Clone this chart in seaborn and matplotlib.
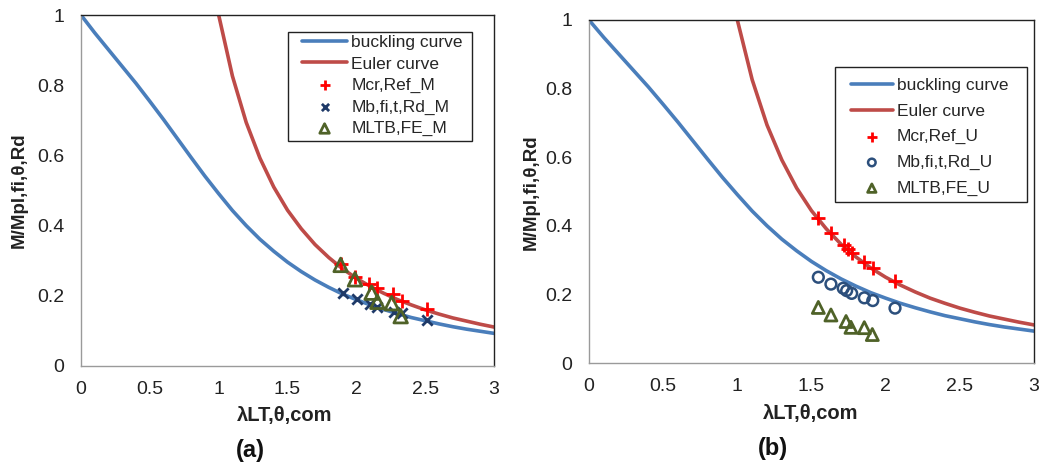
import numpy as np
import pandas as pd
import matplotlib
matplotlib.use("Agg")
import matplotlib.pyplot as plt
from matplotlib.patches import Rectangle
import seaborn as sns

# ---------------- data ----------------
lam_curve = [0.0, 0.1, 0.2, 0.3, 0.4, 0.5, 0.6, 0.7, 0.8, 0.9, 1.0, 1.1, 1.2, 1.3, 1.4,
             1.5, 1.6, 1.7, 1.8, 1.9, 2.0, 2.1, 2.2, 2.3, 2.4, 2.5, 2.6, 2.7, 2.8, 2.9, 3.0]
buckling = [1.000, 0.949, 0.901, 0.853, 0.805, 0.754, 0.702, 0.648, 0.594, 0.541, 0.491,
            0.443, 0.400, 0.361, 0.327, 0.296, 0.269, 0.245, 0.224, 0.205, 0.189, 0.174,
            0.161, 0.149, 0.138, 0.129, 0.120, 0.112, 0.105, 0.099, 0.093]
lam_euler = [1.0, 1.1, 1.2, 1.3, 1.4, 1.5, 1.6, 1.7, 1.8, 1.9, 2.0,
             2.1, 2.2, 2.3, 2.4, 2.5, 2.6, 2.7, 2.8, 2.9, 3.0]
euler = [1.000, 0.826, 0.694, 0.592, 0.510, 0.444, 0.391, 0.346, 0.309, 0.277, 0.250,
         0.227, 0.207, 0.189, 0.174, 0.160, 0.148, 0.137, 0.128, 0.119, 0.111]

# panel (a)
a_mcr_x = [1.886, 1.990, 2.094, 2.153, 2.264, 2.329, 2.516]
a_mcr_y = [0.291, 0.254, 0.234, 0.221, 0.204, 0.186, 0.162]
a_mb_x = [1.901, 2.002, 2.099, 2.153, 2.274, 2.329, 2.516]
a_mb_y = [0.209, 0.190, 0.177, 0.169, 0.155, 0.150, 0.131]
a_fe_x = [1.886, 1.990, 2.111, 2.153, 2.257, 2.322]
a_fe_y = [0.288, 0.247, 0.209, 0.183, 0.179, 0.142]

# panel (b)
b_mcr_x = [1.546, 1.631, 1.719, 1.748, 1.771, 1.856, 1.913, 2.063]
b_mcr_y = [0.422, 0.378, 0.344, 0.331, 0.322, 0.295, 0.276, 0.239]
b_mb_x = [1.546, 1.631, 1.714, 1.737, 1.771, 1.856, 1.913, 2.063]
b_mb_y = [0.250, 0.230, 0.218, 0.211, 0.203, 0.190, 0.182, 0.160]
b_fe_x = [1.546, 1.631, 1.733, 1.766, 1.856, 1.910]
b_fe_y = [0.162, 0.140, 0.121, 0.104, 0.103, 0.083]

xticks = [0, 0.5, 1, 1.5, 2, 2.5, 3]
xtick_labels = ["0", "0.5", "1", "1.5", "2", "2.5", "3"]
yticks = [0, 0.2, 0.4, 0.6, 0.8, 1]
ytick_labels = ["0", "0.2", "0.4", "0.6", "0.8", "1"]

# ---------------- style ----------------
sns.set_theme(style="white")
plt.rcParams["font.family"] = ["Liberation Sans", "DejaVu Sans"]

BLUE = "#4A7EBB"
RED = "#BE4B48"
PLUS = "#FF0000"
NAVY = "#1F3A68"
CIRC = "#2C4F7C"
OLIVE = "#4F6228"

W, H = 1040, 466
fig = plt.figure(figsize=(W / 100, H / 100), dpi=100)


def px_axes(x0, x1, ytop, ybot):
    return fig.add_axes([x0 / W, 1 - ybot / H, (x1 - x0) / W, (ybot - ytop) / H])


ax_a = px_axes(81, 494, 15, 366)
ax_b = px_axes(589, 1034, 20, 363)

curve_df = pd.DataFrame({"lam": lam_curve, "chi": buckling})
euler_df = pd.DataFrame({"lam": lam_euler, "chi": euler})


def draw_panel(ax, mcr, mb, fe, suffix, mb_marker, mb_color, fe_size):
    sns.lineplot(data=curve_df, x="lam", y="chi", ax=ax, color=BLUE, lw=2.6,
                 sort=False, estimator=None, label="buckling curve")
    sns.lineplot(data=euler_df, x="lam", y="chi", ax=ax, color=RED, lw=2.6,
                 sort=False, estimator=None, label="Euler curve")
    sns.scatterplot(x=mcr[0], y=mcr[1], ax=ax, marker="+", color=PLUS, s=95,
                    linewidth=2.0, label="Mcr,Ref_" + suffix, zorder=5)
    if mb_marker == "x":
        sns.scatterplot(x=mb[0], y=mb[1], ax=ax, marker="x", color=mb_color, s=55,
                        linewidth=2.0, label="Mb,fi,t,Rd_" + suffix, zorder=5)
    else:
        sns.scatterplot(x=mb[0], y=mb[1], ax=ax, marker="o", facecolor="none",
                        edgecolor=mb_color, s=60, linewidth=1.8,
                        label="Mb,fi,t,Rd_" + suffix, zorder=5)
    sns.scatterplot(x=fe[0], y=fe[1], ax=ax, marker="^", facecolor="none",
                    edgecolor=OLIVE, s=fe_size, linewidth=2.0,
                    label="MLTB,FE_" + suffix, zorder=6)

    ax.set_xlim(0, 3)
    ax.set_ylim(0, 1)
    ax.set_xticks(xticks)
    ax.set_xticklabels(xtick_labels)
    ax.set_yticks(yticks)
    ax.set_yticklabels(ytick_labels)
    ax.tick_params(axis="both", which="both", length=0, labelsize=14,
                   colors="#222222")
    ax.tick_params(axis="x", pad=11)
    ax.tick_params(axis="y", pad=12)
    ax.set_xlabel("")
    ax.set_ylabel("")
    for side in ["left", "bottom"]:
        ax.spines[side].set_color("#9A9A9A")
        ax.spines[side].set_linewidth(1.0)
    for side in ["top", "right"]:
        ax.spines[side].set_color("#222222")
        ax.spines[side].set_linewidth(1.0)
    ax.grid(False)


draw_panel(ax_a, (a_mcr_x, a_mcr_y), (a_mb_x, a_mb_y), (a_fe_x, a_fe_y), "M",
           "x", NAVY, 95)
draw_panel(ax_b, (b_mcr_x, b_mcr_y), (b_mb_x, b_mb_y), (b_fe_x, b_fe_y), "U",
           "o", CIRC, 75)


def frame(ax, x0, y0, x1, y1):
    ax.add_patch(Rectangle((x0 / W, 1 - y1 / H), (x1 - x0) / W, (y1 - y0) / H,
                           transform=fig.transFigure, facecolor="white",
                           edgecolor="#222222", linewidth=1.0, zorder=8,
                           clip_on=False))


# legends (frame drawn separately to match the reference padding)
frame(ax_a, 288, 32, 472, 141)
leg_a = ax_a.legend(loc="upper left", bbox_to_anchor=(302 / W, 1 - 35 / H),
                    bbox_transform=fig.transFigure, frameon=False, fontsize=12.5,
                    handlelength=2.6, handletextpad=0.25, labelspacing=0.36,
                    borderpad=0, markerscale=0.7, borderaxespad=0)
leg_a.set_zorder(10)
frame(ax_b, 835, 67, 1027, 202)
leg_b = ax_b.legend(loc="upper left", bbox_to_anchor=(851 / W, 1 - 78 / H),
                    bbox_transform=fig.transFigure, frameon=False, fontsize=12.5,
                    handlelength=2.4, handletextpad=0.25, labelspacing=0.6,
                    borderpad=0, markerscale=0.7, borderaxespad=0)
leg_b.set_zorder(10)

# axis titles and panel captions
fig.text(19 / W, 1 - 190 / H, "M/Mpl,fi,θ,Rd", rotation=90, ha="center",
         va="center", fontsize=13.5, fontweight="bold", color="#222222")
fig.text(531 / W, 1 - 192 / H, "M/Mpl,fi,θ,Rd", rotation=90, ha="center",
         va="center", fontsize=13.5, fontweight="bold", color="#222222")
fig.text(285 / W, 1 - 416 / H, "λLT,θ,com", ha="center", va="center",
         fontsize=14.5, fontweight="bold", color="#222222")
fig.text(811 / W, 1 - 413 / H, "λLT,θ,com", ha="center", va="center",
         fontsize=14.5, fontweight="bold", color="#222222")
fig.text(250 / W, 1 - 451 / H, "(a)", ha="center", va="center",
         fontsize=17, fontweight="bold", color="#111111")
fig.text(773 / W, 1 - 449 / H, "(b)", ha="center", va="center",
         fontsize=17, fontweight="bold", color="#111111")

fig.savefig("out.png", dpi=100, facecolor="white")
